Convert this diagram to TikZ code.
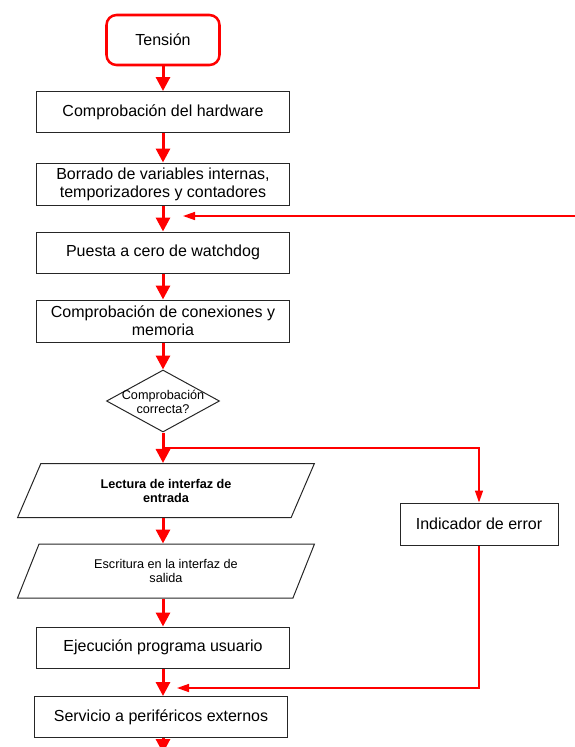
\documentclass[tikz,border=0pt]{standalone}
\usepackage{fontspec}
\setmainfont{Liberation Sans}
\usetikzlibrary{arrows.meta,shapes.geometric}

\tikzset{every picture/.style={line width=0.75pt}}
\tikzset{
  proc/.style={draw=black!85, rectangle, minimum width=190pt, minimum height=30.75pt, inner sep=0.75pt, align=center, font=\fontsize{12}{13.5}\selectfont},
  io/.style={draw=black!85, trapezium, trapezium left angle=64, trapezium right angle=116, trapezium stretches=true, minimum width=222.75pt, minimum height=40.5pt, inner sep=0.75pt, align=center, font=\fontsize{9.5}{10.5}\selectfont},
  small/.style={inner sep=0.75pt, align=center, font=\fontsize{9.5}{10.5}\selectfont},
  flow/.style={draw=red, line width=2.25pt, -{Triangle[width=10.5pt,length=10.5pt]}},
  backline/.style={draw=red, line width=1.1pt, -{Triangle[width=6pt,length=9pt]}},
}

\begin{document}
\begin{tikzpicture}[x=0.75pt,y=0.75pt,yscale=-1,xscale=1]
\useasboundingbox (0,0) rectangle (575,747);

%Shape: Rounded Rect
\draw (163,40) node (tension) [draw=red, line width=1.9pt, rounded corners=7.5pt, minimum width=84.75pt, minimum height=37.5pt, font=\fontsize{12}{13.5}\selectfont] {Tensión};
%Shape: Rectangle
\draw (163,112) node (hw) [proc] {Comprobación del hardware};
%Shape: Rectangle
\draw (163,184) node (borrado) [proc, minimum height=31.5pt] {Borrado de variables internas,\\temporizadores y contadores};
%Shape: Rectangle
\draw (163,252.5) node (watchdog) [proc] {Puesta a cero de watchdog};
%Shape: Rectangle
\draw (163,321) node (conex) [proc, minimum height=31.5pt] {Comprobación de conexiones y\\memoria};
%Shape: Diamond
\draw (163,401) node (check) [draw=black!85, diamond, minimum width=84.75pt, minimum height=46.5pt, inner sep=0pt] {};
%Shape: Parallelogram
\draw (166,490.5) node (lectura) [io, font=\fontsize{9.5}{10.5}\selectfont\bfseries] {Lectura de interfaz de\\entrada};
%Shape: Parallelogram
\draw (166,571) node (escritura) [io] {Escritura en la interfaz de\\salida};
%Shape: Rectangle
\draw (163,647.5) node (ejec) [proc] {Ejecución programa usuario};
%Shape: Rectangle
\draw (161,717) node (serv) [proc] {Servicio a periféricos externos};
%Shape: Rectangle
\draw (479,524) node (err) [proc, minimum width=118.5pt, minimum height=31.5pt] {Indicador de error};

% Text Node
\draw (163,402) node (checkT) [small] {Comprobación\\correcta?};

% Points
\coordinate (split) at (163,448);
\coordinate (retorno) at (575,216);
\coordinate (retornoFin) at (183,216);
\coordinate (errFin) at (177,688);
\coordinate (fin) at (163,753);

% Arrows
\draw[flow] (tension.south) -- (hw.north);
\draw[flow] (hw.south) -- (borrado.north);
\draw[flow] (borrado.south) -- (watchdog.north);
\draw[flow] (watchdog.south) -- (conex.north);
\draw[flow] (conex.south) -- (check.north);
\draw[flow] (check.south) -- (lectura.north -| check.south);
\draw[flow] (lectura.south -| check.south) -- (escritura.north -| check.south);
\draw[flow] (escritura.south -| check.south) -- (ejec.north);
\draw[flow] (ejec.south) -- (serv.north -| ejec.south);
\draw[flow] (serv.south -| ejec.south) -- (fin);

\draw[backline] (retorno) -- (retornoFin);
\draw[backline] (split) -| (err.north);
\draw[backline] (err.south) |- (errFin);

\end{tikzpicture}
\end{document}
